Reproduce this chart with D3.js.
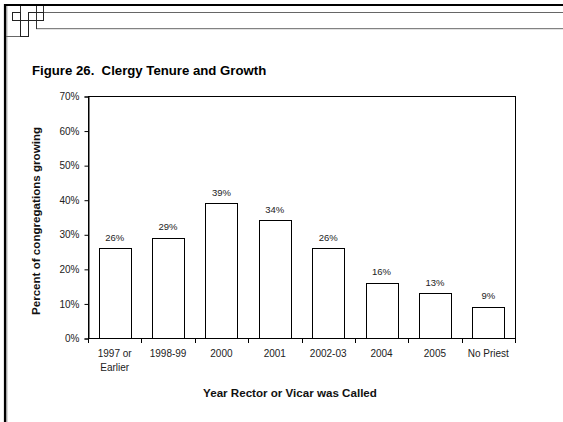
<!DOCTYPE html>
<html><head><meta charset="utf-8">
<script src="https://cdn.jsdelivr.net/npm/d3@7"></script>
<style>body{margin:0;background:#fff}svg{display:block;font-family:Arial,"Liberation Sans",sans-serif}</style>
</head><body>
<svg id="c" width="563" height="422"></svg>
<script>
const categories = [["1997 or","Earlier"],["1998-99"],["2000"],["2001"],["2002-03"],["2004"],["2005"],["No Priest"]];
const values = [26, 29, 39, 34, 26, 16, 13, 9];
const yTicks = [0,10,20,30,40,50,60,70];
const title = "Figure 26.  Clergy Tenure and Growth";
const yTitle = "Percent of congregations growing";
const xTitle = "Year Rector or Vicar was Called";

const svg = d3.select("#c");
// decorative frame
const deco = svg.append("g").attr("fill","none");
deco.append("line").attr("x1",5).attr("x2",5).attr("y1",4).attr("y2",422).attr("stroke","#000").attr("stroke-width",2.2);
deco.append("line").attr("x1",6.8).attr("x2",6.8).attr("y1",6).attr("y2",422).attr("stroke","#888").attr("stroke-width",1);
deco.append("line").attr("x1",4).attr("x2",563).attr("y1",5).attr("y2",5).attr("stroke","#000").attr("stroke-width",2.2);
const g1 = "#666";
[[12,20.5,43,20.5],[28,12.5,563,12.5],[36,28.7,563,28.7],[6,36.5,28,36.5]].forEach(l=>
  deco.append("line").attr("x1",l[0]).attr("y1",l[1]).attr("x2",l[2]).attr("y2",l[3]).attr("stroke",g1).attr("stroke-width",1));
// vertical strokes: [x, y1, y2]
[[20,6,37],[28,12,37],[36,6,29],[43,6,21]].forEach(l=>
  deco.append("line").attr("x1",l[0]+0.5).attr("y1",l[1]).attr("x2",l[0]+0.5).attr("y2",l[2]).attr("stroke","#333").attr("stroke-width",1));
deco.append("rect").attr("x",12.5).attr("y",12.5).attr("width",8).attr("height",8).attr("stroke","#222");
deco.append("rect").attr("x",20.5).attr("y",20.5).attr("width",8).attr("height",16).attr("stroke","#222");
deco.append("rect").attr("x",28.5).attr("y",12.5).attr("width",15).attr("height",8).attr("stroke","#222");

svg.append("text").attr("x",32).attr("y",75).attr("font-size",13.2).attr("font-weight","bold").attr("xml:space","preserve").text(title);

const m = {l:88, r:515, t:96, b:338};
const x = d3.scaleBand().domain(d3.range(categories.length)).range([m.l,m.r]).paddingInner(0.4).paddingOuter(0.2);
const y = d3.scaleLinear().domain([0,70]).range([m.b,m.t]);

svg.append("rect").attr("x",m.l+0.5).attr("y",m.t+0.5).attr("width",m.r-m.l).attr("height",m.b-m.t).attr("fill","none").attr("stroke","#000");

const ya = svg.append("g").attr("transform",`translate(${m.l+0.5},0.5)`)
  .call(d3.axisLeft(y).tickValues(yTicks).tickFormat(d=>d+"%").tickSize(4).tickPadding(5));
ya.selectAll("text").attr("font-size",10).attr("font-family","Arial, 'Liberation Sans', sans-serif").attr("fill","#222");
ya.select(".domain").attr("stroke","#000");

// x axis line and category boundary ticks
const xa = svg.append("g");
xa.append("line").attr("x1",m.l).attr("x2",m.r+0.5).attr("y1",m.b+0.5).attr("y2",m.b+0.5).attr("stroke","#000");
d3.range(categories.length+1).forEach(i=>{
  const xx = Math.round(m.l + i*x.step())+0.5;
  xa.append("line").attr("x1",xx).attr("x2",xx).attr("y1",m.b).attr("y2",m.b+5).attr("stroke","#000");
});

svg.selectAll("rect.bar").data(values).join("rect").attr("class","bar")
  .attr("x",(d,i)=>Math.round(x(i))+0.5).attr("y",d=>Math.round(y(d))+0.5)
  .attr("width",Math.round(x.bandwidth())).attr("height",d=>Math.round(y(0))-Math.round(y(d)))
  .attr("fill","#fff").attr("stroke","#000");

svg.selectAll("text.val").data(values).join("text").attr("class","val")
  .attr("x",(d,i)=>x(i)+x.bandwidth()/2).attr("y",d=>y(d)-7.5)
  .attr("text-anchor","middle").attr("font-size",9.5).attr("fill","#222").text(d=>d+"%");

categories.forEach((c,i)=>{
  const cx = x(i)+x.bandwidth()/2;
  const t = svg.append("text").attr("x",cx).attr("y",357).attr("text-anchor","middle").attr("font-size",10).attr("fill","#222");
  c.forEach((line,j)=>t.append("tspan").attr("x",cx).attr("y",357+j*14).text(line));
});

svg.append("text").attr("x",290).attr("y",397).attr("text-anchor","middle").attr("font-size",11.6).attr("font-weight","bold").attr("fill","#111").text(xTitle);
svg.append("text").attr("transform",`translate(40,221) rotate(-90)`).attr("text-anchor","middle").attr("font-size",11.6).attr("font-weight","bold").attr("fill","#111").text(yTitle);
</script>
</body></html>
